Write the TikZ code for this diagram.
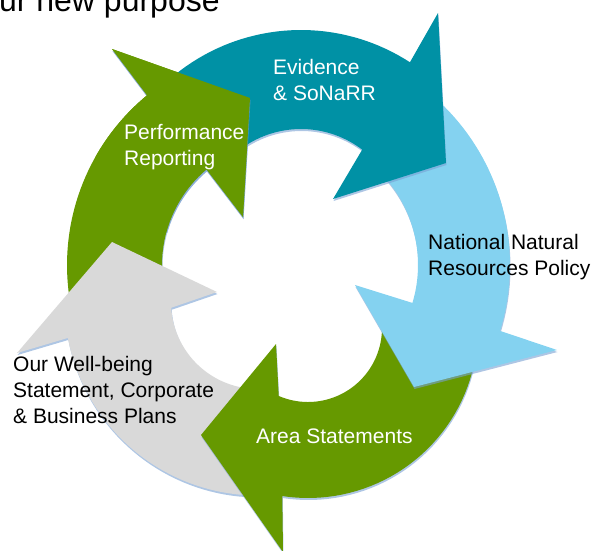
\documentclass[tikz,border=0pt]{standalone}
\usepackage{fontspec}
\setmainfont{Liberation Sans}
\usetikzlibrary{shadows}
\definecolor{evidteal}{RGB}{0,145,165}
\definecolor{policyblue}{RGB}{132,210,240}
\definecolor{leafgreen}{RGB}{102,153,0}
\definecolor{plangray}{RGB}{217,217,217}
\definecolor{edgeblue}{RGB}{120,160,210}
\begin{document}
\begin{tikzpicture}[x=1pt,y=-1pt,
    ring/.style={drop shadow={shadow xshift=0.5pt,shadow yshift=-2pt,fill=edgeblue,opacity=0.6}},
    txt/.style={anchor=base west,inner sep=0pt,align=left,font=\fontsize{21}{26}\selectfont}]
    \useasboundingbox (0,0) rectangle (593,550);
    \node[anchor=base west,inner sep=0pt,font=\fontsize{32}{38}\selectfont] (title) at (-26,11) {Our new purpose};
    % performance reporting
    \fill[ring,leafgreen] plot[domain=165:230.5,samples=40] ({287+220*cos(\x)},{265+220*sin(\x)})
        -- (112,49) -- (250,98) -- (243,217)
        -- plot[domain=229.9:165,samples=40] ({287+125*cos(\x)},{265+125*sin(\x)}) -- cycle;
    % well-being and plans
    \fill[ring,plangray] plot[domain=85:169.3,samples=40] ({258+193.5*cos(\x)},{302+193.5*sin(\x)})
        -- (17,353) -- (112,242) -- (217,292)
        -- plot[domain=176.2:85,samples=40] ({258+87*cos(\x)},{302+87*sin(\x)}) -- cycle;
    % area statements
    \fill[ring,leafgreen] plot[domain=0:98.7,samples=40] ({308+170*cos(\x)},{328+170*sin(\x)})
        -- (283,552) -- (201,435) -- (276,344)
        -- plot[domain=113.3:0,samples=40] ({308+74*cos(\x)},{328+74*sin(\x)}) -- cycle;
    % policy
    \fill[ring,policyblue] plot[domain=-52:17.1,samples=40] ({286+224*cos(\x)},{265+224*sin(\x)})
        -- (557,350) -- (414,387) -- (355,285)
        -- plot[domain=16.7:-52,samples=40] ({286+132*cos(\x)},{265+132*sin(\x)}) -- cycle;
    % evidence
    \fill[ring,evidteal] plot[domain=-135:-57,samples=40] ({301+200*cos(\x)},{230+200*sin(\x)})
        -- (438,13) -- (446,163) -- (333,199)
        -- plot[domain=-52.7:-135,samples=40] ({301+101*cos(\x)},{230+101*sin(\x)}) -- cycle;
    % head of performance reporting over the tail of evidence
    \begin{scope}
        \clip (95,30) rectangle (262,232);
        \fill[ring,leafgreen] plot[domain=165:230.5,samples=40] ({287+220*cos(\x)},{265+220*sin(\x)})
            -- (112,49) -- (250,98) -- (243,217)
            -- plot[domain=229.9:165,samples=40] ({287+125*cos(\x)},{265+125*sin(\x)}) -- cycle;
    \end{scope}
    \node[txt,white] (evid) at (273,100) {Evidence\\\& SoNaRR};
    \node[txt] (policy) at (428,275) {National Natural\\Resources Policy};
    \node[txt,white] (area) at (256,443) {Area Statements};
    \node[txt] (plans) at (13,423) {Our Well-being\\Statement, Corporate\\\& Business Plans};
    \node[txt,white] (perf) at (124,165) {Performance\\Reporting};
\end{tikzpicture}
\end{document}
